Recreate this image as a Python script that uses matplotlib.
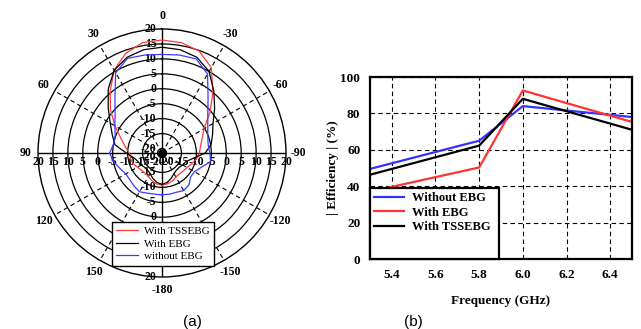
import numpy as np
import matplotlib
matplotlib.use("Agg")
import matplotlib.pyplot as plt
from matplotlib.patches import Rectangle

# ---------------- data ----------------
# (a) radiation pattern, angle in degrees (counter-clockwise from top), gain in dB
pat_angles = [-180, -170, -160, -150, -140, -130, -120, -110, -100, -90, -80, -70, -60, -50, -40, -30, -20, -10,
              0, 10, 20, 30, 40, 50, 60, 70, 80, 90, 100, 110, 120, 130, 140, 150, 160, 170, 180]
gain_tssebg = [-10.8, -11, -11.5, -12.2, -12.4, -12.2, -11.8, -11, -9.8, -9, -8.4, -7.2, -5.3, -0.6, 5, 11.5, 14.8, 16,
               16.3, 16, 14, 10.5, 5.5, 1, -3.3, -6.8, -9, -10.5, -10.8, -11.2, -12, -12.5, -12.7, -12.4, -11.6, -11, -10.8]
gain_ebg = [-11, -11.5, -12.5, -13.5, -14, -14, -13.5, -13, -11, -7, -4.8, -3.5, -1.8, 1.5, 5.5, 10, 12.6, 13.6,
            13.9, 13.6, 12.6, 10.5, 6.5, 2, -1.5, -3.8, -5.5, -9.5, -12, -13, -13.5, -14, -14, -13.5, -12.5, -11.5, -11]
gain_noebg = [-7.5, -7.5, -7.5, -7, -7.5, -9, -9, -7.5, -5, -5.5, -5.8, -5.2, -3.8, -1.5, 2.5, 9, 12, 11.8,
              11.5, 11.8, 12.2, 9.5, 3, -1, -3.3, -4.8, -5, -4, -5, -6.5, -7.5, -7.5, -7, -6.5, -7.2, -7.5, -7.5]
ring_values = [-20, -15, -10, -5, 0, 5, 10, 15, 20]
angle_labels = {0: "0", 30: "30", 60: "60", 90: "90", 120: "120", 150: "150", 180: "-180",
                210: "-150", 240: "-120", 270: "-90", 300: "-60", 330: "-30"}
pat_labels = ["With TSSEBG", "With EBG", "without EBG"]

# (b) efficiency vs frequency
freq = [5.3, 5.8, 6.0, 6.5]
eff_without = [49.5, 65, 84, 78]
eff_with = [37, 50.3, 92.6, 75.3]
eff_tsse = [46.3, 62.3, 88, 71]
eff_labels = ["Without EBG", "With EBG", "With TSSEBG"]

# ---------------- figure ----------------
W, H = 641, 329
fig = plt.figure(figsize=(W / 100, H / 100), dpi=100)
serif = ["Liberation Serif", "DejaVu Serif"]

RMIN, RMAX = -21.5, 20
cx, cy, R = 162, 153, 124
axp = fig.add_axes([(cx - R) / W, (H - cy - R) / H, 2 * R / W, 2 * R / H], projection="polar")
axp.set_theta_zero_location("N")
axp.set_theta_direction(1)
axp.set_rlim(RMIN, RMAX)
axp.set_thetagrids([30, 60, 120, 150, 210, 240, 300, 330], labels=[""] * 8)
axp.set_rgrids(ring_values[:-1], labels=[""] * 8)
axp.xaxis.grid(True, color="black", linestyle=(0, (4, 3)), linewidth=0.8)
axp.yaxis.grid(True, color="black", linestyle="-", linewidth=0.9)
axp.spines["polar"].set_color("black")
axp.spines["polar"].set_linewidth(1.0)
axp.tick_params(pad=0, length=0)
for a in [0, 90, 180, 270]:
    axp.plot([np.deg2rad(a)] * 2, [RMIN, RMAX], color="black", lw=1.0, zorder=2)

th = np.deg2rad(pat_angles)
l1, = axp.plot(th, gain_tssebg, color="#ff3a3a", lw=0.9, zorder=4)
l2, = axp.plot(th, gain_ebg, color="black", lw=0.9, zorder=4)
l3, = axp.plot(th, gain_noebg, color="#3a3aff", lw=0.9, zorder=4)
axp.plot([0], [RMIN], "o", color="black", ms=5, zorder=5)

fs = 8.5
for a, lab in angle_labels.items():
    axp.text(np.deg2rad(a), 24.3, lab, ha="center", va="center", fontsize=fs,
             fontweight="bold", family=serif, clip_on=False)
for v in ring_values:
    for a in [0, 180]:
        axp.annotate(str(v), xy=(np.deg2rad(a), v), xytext=(-4, 0), textcoords="offset points",
                     ha="right", va="center", fontsize=fs, fontweight="bold", family=serif, zorder=3)
    for a in [90, 270]:
        axp.annotate(str(v), xy=(np.deg2rad(a), v), xytext=(0, -2), textcoords="offset points",
                     ha="center", va="top", fontsize=fs, fontweight="bold", family=serif, zorder=3)

legp = axp.legend([l1, l2, l3], pat_labels, loc="upper left",
                  bbox_to_anchor=(112 / W, 1 - 222 / H), bbox_transform=fig.transFigure,
                  prop={"family": serif, "size": 8}, frameon=True, fancybox=False,
                  edgecolor="black", framealpha=1, handlelength=1.9, handletextpad=0.6,
                  borderpad=0.4, labelspacing=0.25, borderaxespad=0)
legp.get_frame().set_linewidth(1.0)
legp.set_zorder(10)

# ---------------- (b) ----------------
L, Rr, T, B = 370, 632, 77, 259
axb = fig.add_axes([L / W, (H - B) / H, (Rr - L) / W, (B - T) / H])
lb1, = axb.plot(freq, eff_without, color="#3333ff", lw=1.6)
lb2, = axb.plot(freq, eff_with, color="#ff3333", lw=1.6)
lb3, = axb.plot(freq, eff_tsse, color="black", lw=1.6)
axb.set_xlim(5.3, 6.5)
axb.set_ylim(0, 100)
axb.set_xticks([5.4, 5.6, 5.8, 6.0, 6.2, 6.4])
axb.set_xticklabels(["5.4", "5.6", "5.8", "6.0", "6.2", "6.4"])
axb.set_yticks([0, 20, 40, 60, 80, 100])
axb.grid(True, color="black", linestyle=(0, (4, 3)), linewidth=0.8)
axb.tick_params(length=0, pad=7)
for lab in axb.get_xticklabels() + axb.get_yticklabels():
    lab.set_family(serif)
    lab.set_fontweight("bold")
    lab.set_fontsize(9.5)
for s in axb.spines.values():
    s.set_linewidth(1.6)
axb.set_xlabel("Frequency (GHz)", family=serif, fontweight="bold", fontsize=9.5, labelpad=10)
axb.set_ylabel("| Efficiency | (%)", family=serif, fontweight="bold", fontsize=9.5, labelpad=1)

box_w = (499 - L) / (Rr - L)
box_h = (B - 188) / (B - T)
axb.add_patch(Rectangle((0, 0), box_w, box_h, transform=axb.transAxes, facecolor="white",
                        edgecolor="black", lw=1.6, zorder=5, clip_on=False))
legb = axb.legend([lb1, lb2, lb3], eff_labels, loc="upper left", bbox_to_anchor=(0, box_h),
                  prop={"family": serif, "size": 9, "weight": "bold"}, frameon=False,
                  handlelength=2.4, handletextpad=0.6, borderpad=0.35, labelspacing=0.18,
                  borderaxespad=0)
legb.set_zorder(6)

fig.text(192 / W, 1 - 322 / H, "(a)", ha="center", va="center", fontsize=11, family=["Liberation Sans"])
fig.text(413 / W, 1 - 322 / H, "(b)", ha="center", va="center", fontsize=11, family=["Liberation Sans"])

fig.savefig("out.png", dpi=100)
